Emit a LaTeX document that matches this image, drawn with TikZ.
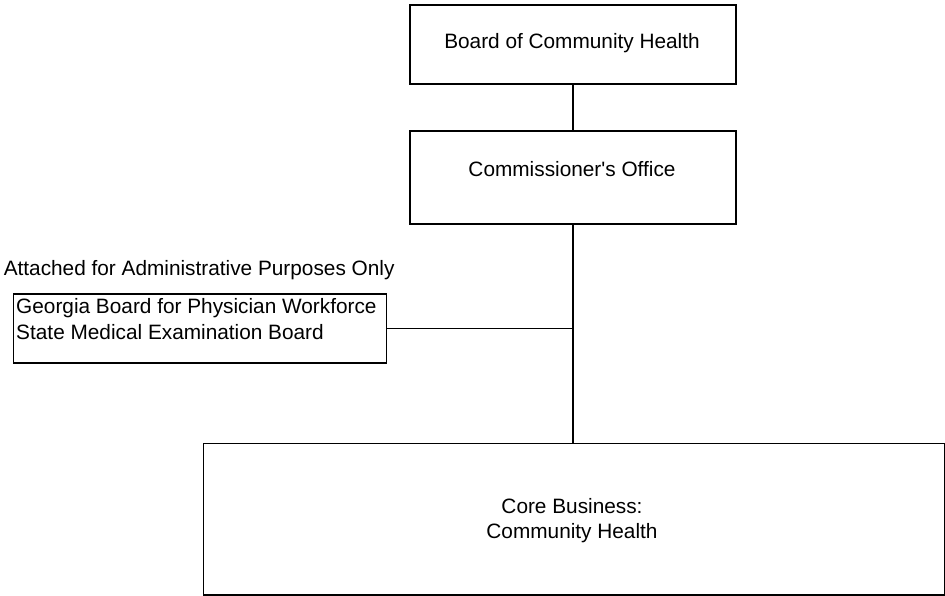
\documentclass[tikz,border=0pt]{standalone}
\usepackage{fontspec}
\setmainfont{Liberation Sans}
\begin{document}
\begin{tikzpicture}[x=1pt, y=-1pt, line width=1.5pt,
    box/.style={draw, inner sep=0pt, anchor=north west},
    lbl/.style={inner sep=0pt, anchor=base, font=\fontsize{20.8}{25}\selectfont},
    lblleft/.style={lbl, anchor=base west}]
    % Frame
    \useasboundingbox (0,0) rectangle (945,595);

    % Board
    \node[box, minimum width=326pt, minimum height=79pt] (board) at (409,4) {};
    \node[lbl] (boardtxt) at (572,48) {Board of Community Health};

    % Commissioner
    \node[box, minimum width=326pt, minimum height=93pt] (comm) at (409,130) {};
    \node[lbl] (commtxt) at (572,176.5) {Commissioner\textquotesingle s Office};

    % Attached boards
    \node[lblleft] (attached) at (3,275) {Attached for Administrative Purposes Only};
    \node[box, minimum width=373pt, minimum height=69pt] (georgia) at (12.7,293) {};
    \node[lblleft] (georgiaone) at (15.5,313) {Georgia Board for Physician Workforce};
    \node[lblleft] (georgiatwo) at (15.5,339) {State Medical Examination Board};

    % Core business
    \node[box, minimum width=741.5pt, minimum height=151.5pt] (core) at (202.5,442.5) {};
    \node[lbl] (coreone) at (572,513) {Core Business:};
    \node[lbl] (coretwo) at (572,538) {Community Health};

    % Lines
    \coordinate (jn) at (georgia.east -| comm.south);
    \draw (board.south) -- (comm.north);
    \draw (comm.south) -- (comm.south |- core.north);
    \draw (georgia.east) -- (jn);
\end{tikzpicture}
\end{document}
